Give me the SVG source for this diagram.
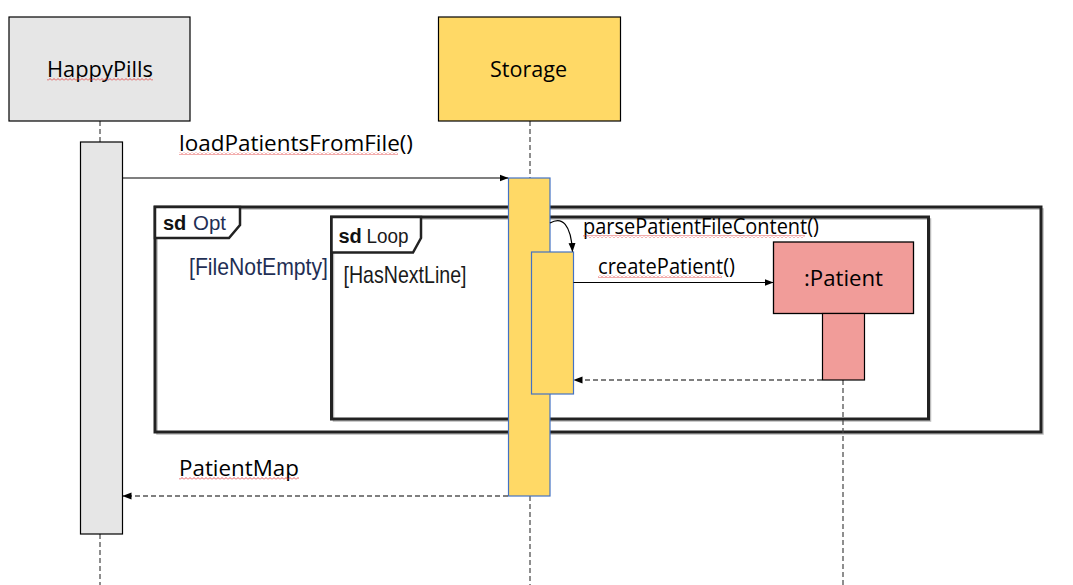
<svg xmlns="http://www.w3.org/2000/svg" width="1073" height="585" viewBox="0 0 1073 585">
<style>
.cal{font-family:"Open Sans","Liberation Sans",sans-serif;font-size:21.5px;fill:#000}
.ari{font-family:"Liberation Sans",Arial,sans-serif;fill:#1a1a1a}
.sd{font-family:"Liberation Sans",Arial,sans-serif;font-weight:bold;font-size:20px;fill:#111}
.life{stroke:#444;stroke-width:1.2;stroke-dasharray:5,3;fill:none}
.msg{stroke:#000;stroke-width:1.2;fill:none;marker-end:url(#ah)}
.ret{stroke:#000;stroke-width:1.2;stroke-dasharray:5,3;fill:none;marker-end:url(#ah)}
.frame{fill:none;stroke:#222;stroke-width:3}
.shadow{fill:none;stroke:#bbb;stroke-width:1.5}
.tab{fill:#fff;stroke:#222;stroke-width:2.5}
.act{stroke:#4472c4;stroke-width:1.2}
.squig{fill:url(#sq)}
</style>
<defs>
<marker id="ah" markerWidth="9" markerHeight="8" refX="8.5" refY="4" orient="auto" markerUnits="userSpaceOnUse">
<path d="M0,0.5 L9,4 L0,7.5 Z" fill="#000"/>
</marker>
<pattern id="sq" patternUnits="userSpaceOnUse" x="0" y="0" width="4" height="3">
<path d="M0,2.5 L2,0.5 L4,2.5" fill="none" stroke="#e03030" stroke-width="0.8"/>
</pattern>
</defs>
<rect width="1073" height="585" fill="#fff"/>

<g id="frames">
<rect class="shadow" x="157" y="209" width="886" height="225"/>
<rect class="frame" x="155" y="207" width="886" height="225"/>
<path class="tab" d="M155,207 H240 V225 L229,238 H155 Z"/>
<text class="sd" x="163" y="229.5">sd</text>
<text class="ari" x="193" y="229.5" font-size="21" style="fill:#1f2f55" textLength="33" lengthAdjust="spacingAndGlyphs">Opt</text>
<text class="ari" x="189" y="275" font-size="24" style="fill:#1f2f55" textLength="139" lengthAdjust="spacingAndGlyphs">[FileNotEmpty]</text>
<rect class="shadow" x="333.5" y="219" width="597" height="202"/>
<rect class="frame" x="331.5" y="217" width="597" height="202"/>
<path class="tab" d="M331.5,217 H421 V238 L413,252.5 H331.5 Z"/>
<text class="sd" x="338.5" y="242.5">sd</text>
<text class="ari" x="366.5" y="242.5" font-size="21" textLength="42" lengthAdjust="spacingAndGlyphs">Loop</text>
<text class="ari" x="343.5" y="283" font-size="24" fill="#333" textLength="123" lengthAdjust="spacingAndGlyphs">[HasNextLine]</text>
</g>

<g id="lifelines">
<line class="life" x1="100" y1="121" x2="100" y2="142"/>
<line class="life" x1="100" y1="534" x2="100" y2="585"/>
<line class="life" x1="530" y1="121" x2="530" y2="178"/>
<line class="life" x1="530" y1="496" x2="530" y2="585"/>
<line class="life" x1="843" y1="380" x2="843" y2="585"/>
</g>

<g id="HappyPills">
<rect x="9" y="17" width="181" height="104" fill="#e6e6e6" stroke="#000" stroke-width="1.2"/>
<text class="cal" x="47" y="77" textLength="106" lengthAdjust="spacingAndGlyphs">HappyPills</text>
<rect class="squig" x="47" y="78" width="106" height="3"/>
<rect x="80.5" y="142" width="42" height="392" fill="#e6e6e6" stroke="#000" stroke-width="1.2"/>
</g>

<g id="Storage">
<rect x="438.5" y="17" width="182" height="104" fill="#ffd966" stroke="#000" stroke-width="1.2"/>
<text class="cal" x="490" y="77" textLength="77" lengthAdjust="spacingAndGlyphs">Storage</text>
<rect class="act" x="508.5" y="178" width="41.5" height="318" fill="#ffd966"/>
<rect class="act" x="531.5" y="252" width="42" height="142" fill="#ffd966"/>
</g>

<g id="Patient">
<rect x="773.5" y="242" width="140" height="71.5" fill="#f19c99" stroke="#000" stroke-width="1.3"/>
<text class="cal" x="804" y="286" textLength="79" lengthAdjust="spacingAndGlyphs">:Patient</text>
<rect x="822.5" y="313.5" width="42" height="66.5" fill="#f19c99" stroke="#000" stroke-width="1.2"/>
</g>

<g id="connectors">
<line class="msg" x1="122.5" y1="178" x2="508" y2="178"/>
<text class="cal" x="179" y="151" textLength="234" lengthAdjust="spacingAndGlyphs">loadPatientsFromFile()</text>
<rect class="squig" x="179" y="152" width="219" height="3"/>
<path class="msg" d="M550,223 C562,216 571,224 572.5,251.5"/>
<text class="cal" x="583" y="234" textLength="236" lengthAdjust="spacingAndGlyphs">parsePatientFileContent()</text>
<rect class="squig" x="583" y="235" width="222" height="3"/>
<line class="msg" x1="573.5" y1="282.5" x2="773" y2="282.5"/>
<text class="cal" x="598" y="274" textLength="137" lengthAdjust="spacingAndGlyphs">createPatient()</text>
<rect class="squig" x="598" y="275" width="124" height="3"/>
<line class="ret" x1="822" y1="380" x2="574" y2="380"/>
<line class="ret" x1="508" y1="496" x2="123" y2="496"/>
<text class="cal" x="179" y="476" textLength="120" lengthAdjust="spacingAndGlyphs">PatientMap</text>
<rect class="squig" x="179" y="477" width="120" height="3"/>
</g>
</svg>
